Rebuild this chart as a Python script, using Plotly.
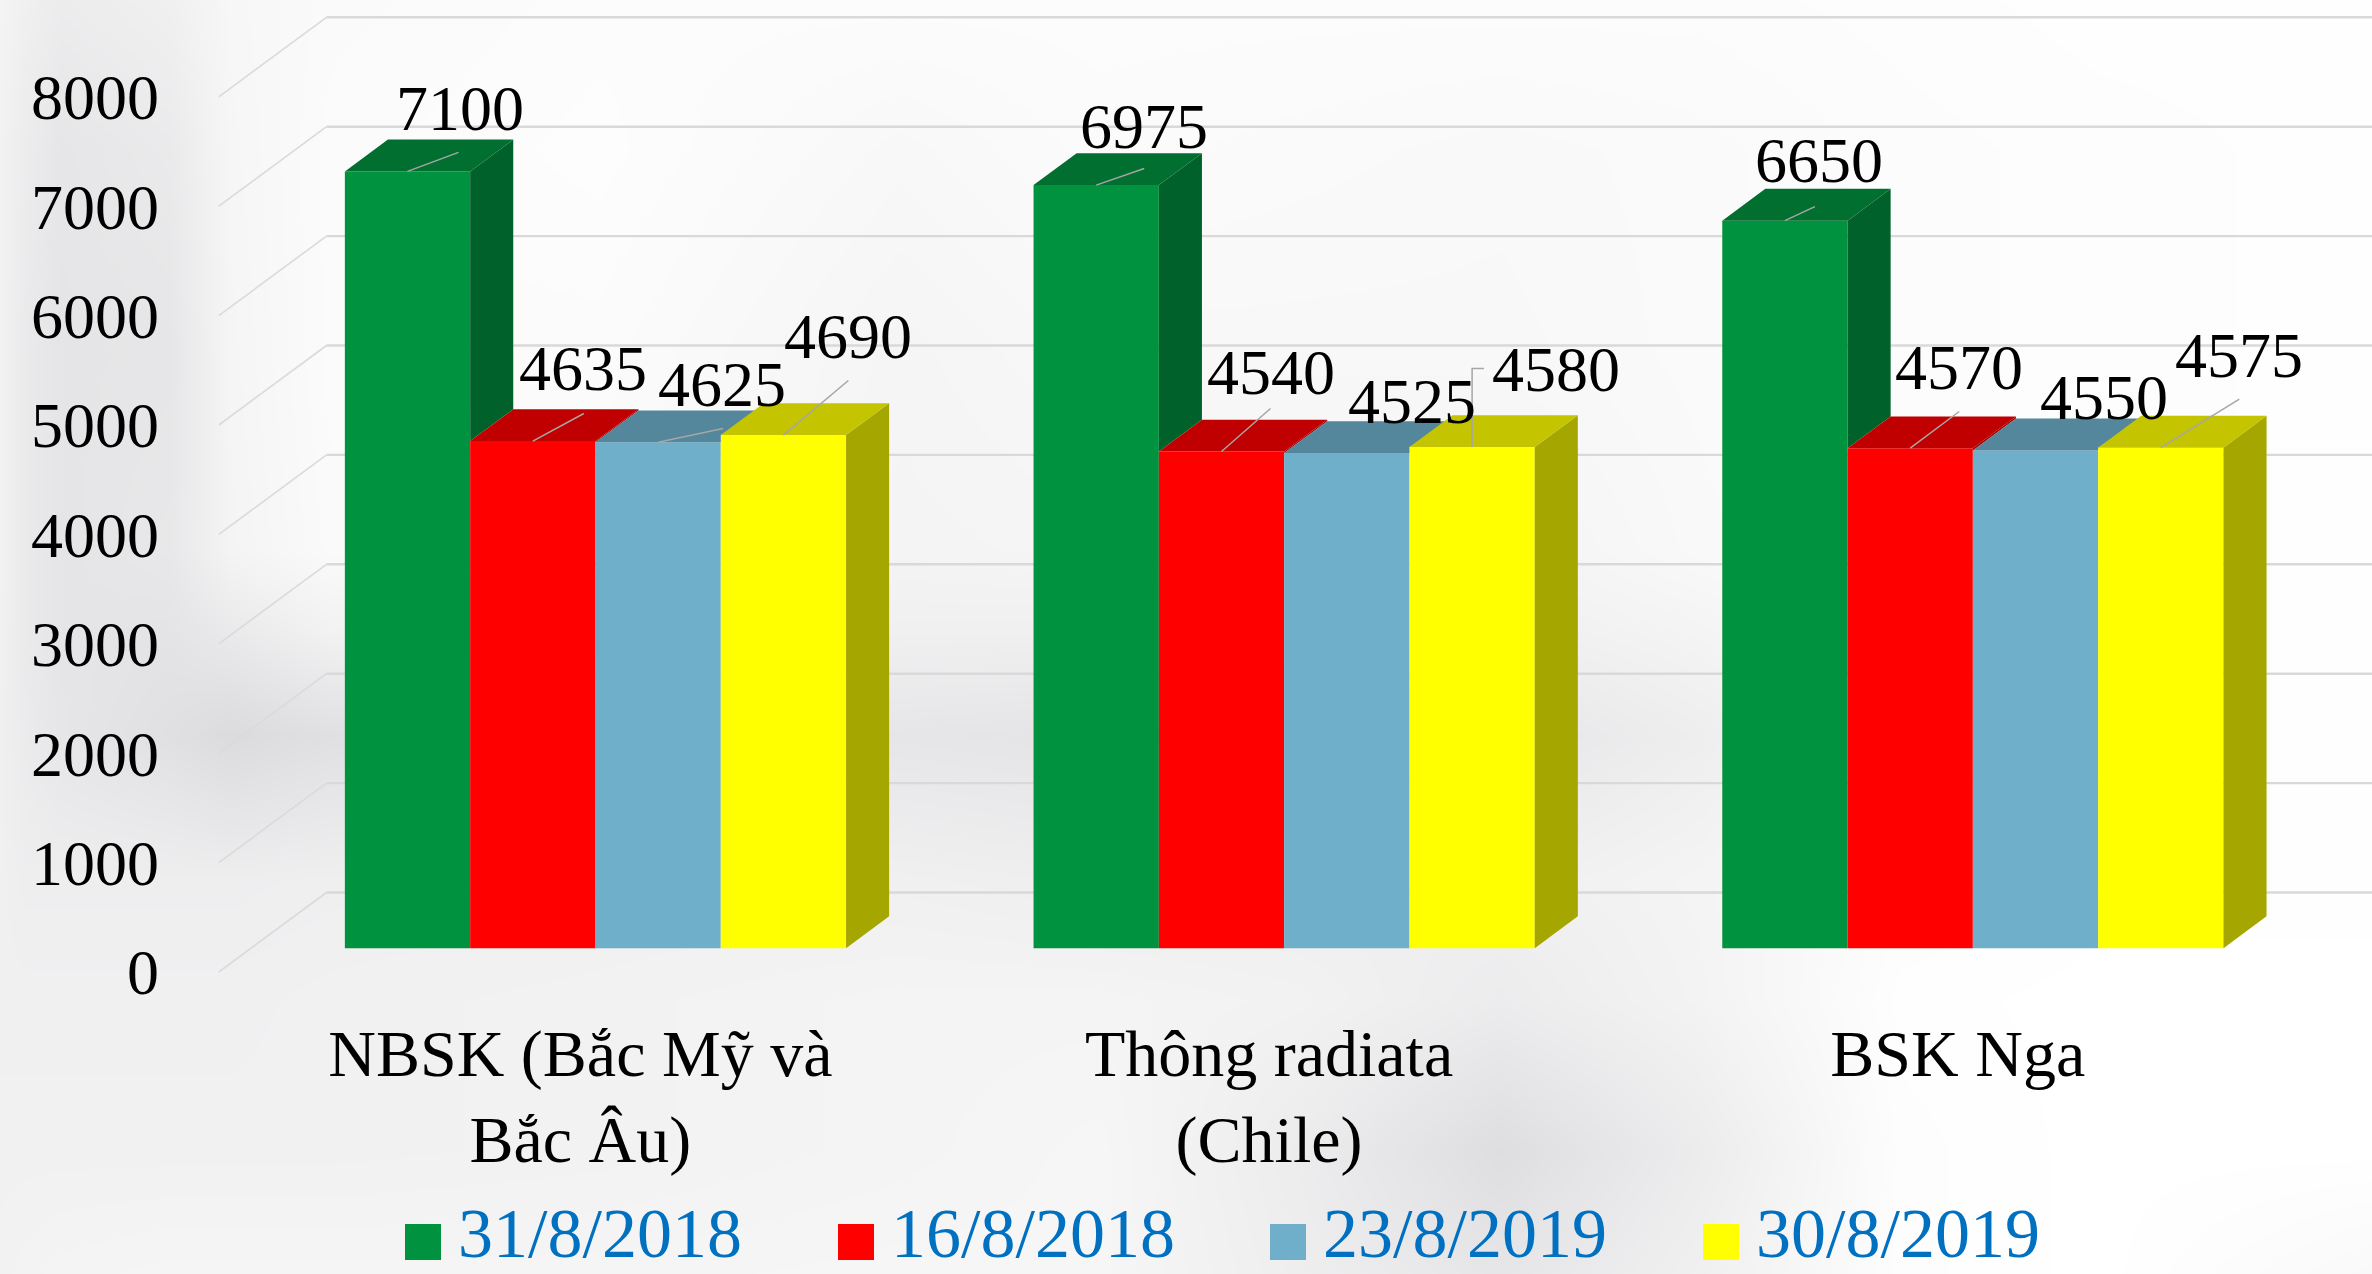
import plotly.graph_objects as go

# ---------- data ----------
categories = ["NBSK (Bắc Mỹ và<br>Bắc Âu)", "Thông radiata<br>(Chile)", "BSK Nga"]
series_names = ["31/8/2018", "16/8/2018", "23/8/2019", "30/8/2019"]
s_2018_08_31 = [7100, 6975, 6650]
s_2018_08_16 = [4635, 4540, 4570]
s_2019_08_23 = [4625, 4525, 4550]
s_2019_08_30 = [4690, 4580, 4575]
series_values = [s_2018_08_31, s_2018_08_16, s_2019_08_23, s_2019_08_30]
y_ticks = [0, 1000, 2000, 3000, 4000, 5000, 6000, 7000, 8000]

# ---------- styles ----------
front_colors = ["#00923F", "#FF0000", "#6FAFCA", "#FFFF00"]
top_colors = ["#006F30", "#C00000", "#54869C", "#C4C400"]
side_colors = ["#00622A", "#A00000", "#44707F", "#A6A600"]
FONT = "Liberation Serif"
W, H = 2372, 1274

# axis geometry: pixels per unit
X0_PX, PX_PER_CAT = 218.8, 688.7
Y0_PX, PX_PER_VAL = 972.0, 0.1094
DEPTH_X = 107.7 / PX_PER_CAT      # full floor depth in category units
DEPTH_Y = 79.5 / PX_PER_VAL       # full floor depth in value units
D_FRONT, D_BACK = 0.30, 0.70      # bar front/back position in the depth
BAR_W = 125.3 / PX_PER_CAT
centers = [0.5, 1.5, 2.5]
x_range = [-X0_PX / PX_PER_CAT, (W - X0_PX) / PX_PER_CAT]
y_range = [(Y0_PX - H) / PX_PER_VAL, Y0_PX / PX_PER_VAL]

# label centre offset from the top-front centre of each bar (px), per series then group
label_off = [
    [(52, -63), (48, -59), (34, -60)],
    [(50.5, -72.6), (49, -79), (49, -80.7)],
    [(64, -57.7), (65, -51.7), (68, -53)],
    [(65, -98.6), (84, -77.6), (78.5, -92)],
]
leader_off = [
    [[(51, -19)], [(48, -16.6)], [(30, -14)]],
    [[(51, -27.6)], [(49, -43)], [(49, -36.7)]],
    [[(65, -13.7)], [], []],
    [[(65, -54.6)], [(0, -78.6), (11.8, -78.6)], [(78.5, -48.5)]],
]

# soft photographic backdrop: grey levels
bg_x_px = [0, 25, 60, 170, 230, 330, 600, 900, 1100, 1300, 1500, 1700, 1900, 2100, 2372]
bg_y_px = [0, 150, 350, 550, 630, 735, 880, 1000, 1150, 1274]
bg_levels = [
    [244, 240, 236, 240, 247, 250, 252, 252, 252, 252, 252, 252, 253, 254, 254],
    [242, 236, 230, 234, 246, 251, 253, 248, 251, 250, 249, 250, 252, 253, 254],
    [242, 234, 229, 230, 245, 251, 251, 245, 248, 248, 248, 250, 252, 253, 254],
    [242, 234, 229, 232, 244, 250, 250, 244, 245, 244, 244, 249, 252, 253, 254],
    [241, 234, 229, 228, 234, 242, 244, 240, 240, 238, 240, 244, 251, 253, 254],
    [240, 235, 230, 224, 219, 224, 232, 230, 228, 228, 230, 238, 250, 253, 254],
    [240, 238, 238, 238, 238, 239, 240, 240, 238, 238, 240, 244, 252, 254, 254],
    [240, 240, 240, 240, 240, 241, 242, 244, 244, 242, 236, 243, 254, 255, 255],
    [241, 241, 241, 241, 241, 241, 242, 244, 246, 236, 222, 236, 253, 255, 255],
    [242, 243, 244, 245, 245, 245, 245, 246, 246, 238, 230, 240, 253, 255, 249],
]

fig = go.Figure()

# lower layer (axes x, y): backdrop and walls, so the bars on x2/y2 lie above them
fig.add_trace(go.Heatmap(
    x=[(p - X0_PX) / PX_PER_CAT for p in bg_x_px],
    y=[(Y0_PX - p) / PX_PER_VAL for p in bg_y_px],
    z=bg_levels, zmin=200, zmax=255, zsmooth="best", showscale=False,
    colorscale=[[0, "rgb(200,200,204)"], [1, "rgb(255,255,255)"]], hoverinfo="skip",
))

gx, gy = [], []
for t in y_ticks:
    gx += [0, DEPTH_X, None]
    gy += [t, t + DEPTH_Y, None]
fig.add_trace(go.Scatter(x=gx, y=gy, mode="lines", line=dict(color="#DADADA", width=1.6),
                         hoverinfo="skip", showlegend=False))
gx, gy = [], []
for t in y_ticks:
    gx += [DEPTH_X, x_range[1], None]
    gy += [t + DEPTH_Y, t + DEPTH_Y, None]
fig.add_trace(go.Scatter(x=gx, y=gy, mode="lines", line=dict(color="#D9D9D9", width=2.4),
                         hoverinfo="skip", showlegend=False))

# front faces
base = D_FRONT * DEPTH_Y
x_front = [c + D_FRONT * DEPTH_X for c in centers]
for s, name in enumerate(series_names):
    fig.add_trace(go.Bar(
        x=x_front, y=series_values[s], base=base, name=name, offsetgroup=str(s),
        xaxis="x2", yaxis="y2",
        marker=dict(color=front_colors[s], line=dict(width=0)), hoverinfo="skip", showlegend=False,
    ))

# top and side faces, computed from the same values through the same axes
ddx = (D_BACK - D_FRONT) * DEPTH_X
ddy = (D_BACK - D_FRONT) * DEPTH_Y
for g in range(3):
    for s in range(4):
        v = series_values[s][g]
        left = x_front[g] - 2 * BAR_W + s * BAR_W
        right = left + BAR_W
        top = base + v
        nxt = base + series_values[s + 1][g] if s < 3 else None
        # side
        if nxt is None or nxt < top:
            low = base if nxt is None else nxt
            fig.add_trace(go.Scatter(
                x=[right, right + ddx, right + ddx, right, right],
                y=[top, top + ddy, low + ddy, low, top],
                xaxis="x2", yaxis="y2",
                mode="lines", fill="toself", fillcolor=side_colors[s], line=dict(width=0),
                hoverinfo="skip", showlegend=False))
        # top
        tx = [left, right]
        ty = [top, top]
        if nxt is not None and nxt > top:
            tx.append(right)
            ty.append(nxt)
        tx += [right + ddx, left + ddx, left]
        ty += [top + ddy, top + ddy, top]
        fig.add_trace(go.Scatter(x=tx, y=ty, xaxis="x2", yaxis="y2", mode="lines", fill="toself",
                                 fillcolor=top_colors[s], line=dict(width=0),
                                 hoverinfo="skip", showlegend=False))

# leader lines and value labels
annotations = []
for g in range(3):
    for s in range(4):
        v = series_values[s][g]
        cx = x_front[g] - 2 * BAR_W + (s + 0.5) * BAR_W
        top = base + v
        pts = leader_off[s][g]
        if pts:
            lx = [cx] + [cx + p[0] / PX_PER_CAT for p in pts]
            ly = [top] + [top - p[1] / PX_PER_VAL for p in pts]
            fig.add_trace(go.Scatter(x=lx, y=ly, xaxis="x2", yaxis="y2", mode="lines",
                                     line=dict(color="#A6A6A6", width=1.5),
                                     hoverinfo="skip", showlegend=False))
        ox, oy = label_off[s][g]
        annotations.append(dict(
            x=cx + ox / PX_PER_CAT, y=top - oy / PX_PER_VAL, xref="x2", yref="y2", text=str(v),
            showarrow=False, xanchor="center", yanchor="middle",
            font=dict(family=FONT, size=64, color="#000000"),
        ))

# legend row
legend_square_px = [405, 838, 1270, 1703]
shapes = []
for s, name in enumerate(series_names):
    x0 = legend_square_px[s]
    shapes.append(dict(type="rect", xref="paper", yref="paper", x0=x0 / W, x1=(x0 + 36) / W,
                       y0=1 - 1260 / H, y1=1 - 1224 / H, fillcolor=front_colors[s], line=dict(width=0)))
    annotations.append(dict(x=(x0 + 52) / W, y=1 - 1233.5 / H, xref="paper", yref="paper", text=name,
                            showarrow=False, xanchor="left", yanchor="middle", borderpad=0,
                            font=dict(family=FONT, size=70, color="#0070C0")))

fig.update_layout(
    width=W, height=H, margin=dict(l=0, r=0, t=0, b=0, pad=0),
    paper_bgcolor="#FFFFFF", plot_bgcolor="rgba(0,0,0,0)",
    barmode="group", bargap=1 - 4 * BAR_W, bargroupgap=0, showlegend=False,
    shapes=shapes, annotations=annotations,
    xaxis=dict(range=x_range, domain=[0, 1], visible=False, fixedrange=True),
    yaxis=dict(range=y_range, domain=[0, 1], visible=False, fixedrange=True),
    xaxis2=dict(range=x_range, domain=[0, 1], anchor="free", position=1 - Y0_PX / H,
                tickmode="array", tickvals=[c + 0.025 for c in centers], ticktext=categories,
                tickfont=dict(family=FONT, size=66, color="#000000"),
                ticks="outside", ticklen=24, tickcolor="rgba(0,0,0,0)",
                showgrid=False, zeroline=False, showline=False, fixedrange=True),
    yaxis2=dict(range=y_range, domain=[0, 1], anchor="free", position=X0_PX / W,
                tickmode="array", tickvals=y_ticks, ticktext=[str(t) for t in y_ticks],
                tickfont=dict(family=FONT, size=64, color="#000000"),
                ticks="outside", ticklen=47, tickcolor="rgba(0,0,0,0)",
                showgrid=False, zeroline=False, showline=False, fixedrange=True),
)

fig.write_html("out.html", config={"displayModeBar": False},
               post_script="document.body.style.margin='0';")
